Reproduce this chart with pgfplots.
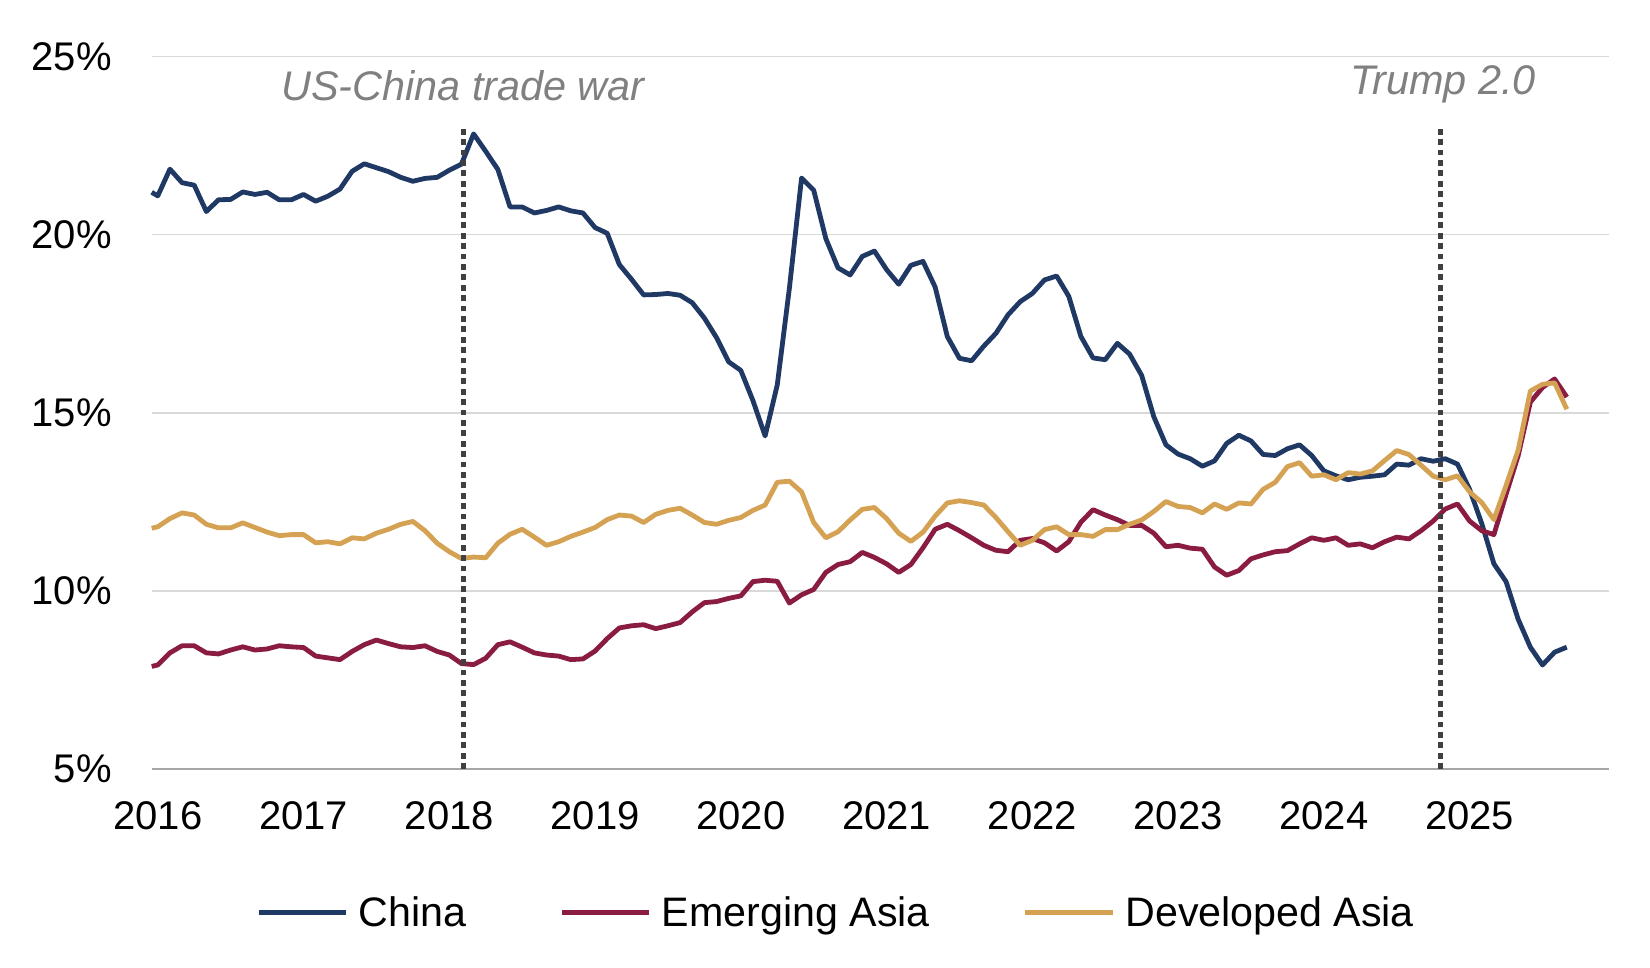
\documentclass[border=0pt]{standalone}
\usepackage{fontspec}
\setmainfont{Liberation Sans}
\usepackage{pgfplots}
\usepackage{pgfplotstable}
\pgfplotsset{compat=1.18}

\definecolor{china}{RGB}{31,56,100}
\definecolor{emasia}{RGB}{138,28,66}
\definecolor{devasia}{RGB}{212,162,82}
\definecolor{gridgray}{RGB}{217,217,217}
\definecolor{axisgray}{RGB}{166,166,166}
\definecolor{notegray}{RGB}{128,128,128}
\definecolor{markergray}{RGB}{64,64,64}

% Monthly shares (%), m = months since Jan 2016
\pgfplotstableread{
m china emerging developed
-0.5 21.19 7.88 11.76
0 21.09 7.92 11.80
1 21.84 8.26 12.03
2 21.46 8.46 12.19
3 21.39 8.46 12.13
4 20.65 8.26 11.87
5 20.98 8.23 11.77
6 20.99 8.34 11.77
7 21.20 8.43 11.91
8 21.13 8.34 11.78
9 21.19 8.37 11.65
10 20.98 8.46 11.55
11 20.98 8.43 11.58
12 21.13 8.41 11.58
13 20.94 8.17 11.35
14 21.08 8.12 11.38
15 21.28 8.07 11.32
16 21.78 8.30 11.49
17 21.99 8.49 11.46
18 21.88 8.62 11.62
19 21.77 8.52 11.73
20 21.61 8.43 11.87
21 21.50 8.41 11.95
22 21.58 8.46 11.69
23 21.61 8.30 11.34
24 21.81 8.20 11.10
25 21.98 7.96 10.91
26 22.83 7.93 10.95
27 22.34 8.11 10.93
28 21.83 8.49 11.34
29 20.78 8.57 11.59
30 20.78 8.42 11.73
31 20.61 8.26 11.51
32 20.68 8.20 11.28
33 20.78 8.17 11.38
34 20.67 8.07 11.53
35 20.61 8.09 11.65
36 20.20 8.31 11.78
37 20.04 8.66 12.00
38 19.16 8.96 12.13
39 18.75 9.02 12.10
40 18.31 9.05 11.92
41 18.32 8.94 12.15
42 18.35 9.02 12.26
43 18.30 9.11 12.32
44 18.09 9.41 12.13
45 17.66 9.67 11.92
46 17.11 9.70 11.87
47 16.43 9.79 11.98
48 16.19 9.86 12.06
49 15.34 10.26 12.26
50 14.35 10.30 12.41
51 15.78 10.27 13.05
52 18.50 9.66 13.08
53 21.59 9.89 12.78
54 21.25 10.04 11.92
55 19.89 10.52 11.49
56 19.07 10.74 11.66
57 18.87 10.82 11.99
58 19.39 11.08 12.29
59 19.54 10.94 12.34
60 19.02 10.76 12.03
61 18.61 10.52 11.62
62 19.14 10.74 11.39
63 19.25 11.21 11.65
64 18.53 11.73 12.10
65 17.14 11.87 12.47
66 16.53 11.69 12.53
67 16.46 11.49 12.48
68 16.87 11.28 12.41
69 17.23 11.14 12.06
70 17.75 11.10 11.66
71 18.12 11.42 11.28
72 18.35 11.47 11.42
73 18.73 11.35 11.72
74 18.84 11.12 11.80
75 18.27 11.38 11.58
76 17.14 11.93 11.58
77 16.54 12.28 11.53
78 16.49 12.13 11.72
79 16.95 12.00 11.72
80 16.65 11.84 11.87
81 16.05 11.84 11.99
82 14.89 11.62 12.23
83 14.10 11.24 12.51
84 13.84 11.28 12.37
85 13.71 11.20 12.34
86 13.50 11.17 12.19
87 13.65 10.67 12.44
88 14.14 10.44 12.29
89 14.37 10.57 12.47
90 14.21 10.90 12.44
91 13.83 11.01 12.85
92 13.80 11.10 13.05
93 13.99 11.13 13.49
94 14.10 11.32 13.60
95 13.80 11.49 13.22
96 13.37 11.42 13.26
97 13.23 11.49 13.12
98 13.12 11.28 13.32
99 13.19 11.32 13.28
100 13.22 11.21 13.37
101 13.26 11.38 13.66
102 13.56 11.51 13.94
103 13.53 11.46 13.83
104 13.71 11.69 13.53
105 13.64 11.96 13.22
106 13.71 12.30 13.12
107 13.56 12.44 13.23
108 12.85 11.96 12.78
109 11.89 11.69 12.48
110 10.76 11.58 12.00
111 10.26 12.71 12.96
112 9.20 13.80 13.96
113 8.42 15.30 15.61
114 7.92 15.71 15.80
115 8.28 15.95 15.84
116 8.42 15.44 15.10
}\shares

\begin{document}
\begin{tikzpicture}
\useasboundingbox (0,0) rectangle (825pt,484pt);
\begin{axis}[
  at={(75.85pt,99.5pt)}, anchor=south west,
  scale only axis, width=728.8pt, height=356.2pt,
  xmin=-0.5, xmax=119.5, ymin=5, ymax=25,
  axis lines*=left,
  x axis line style={draw=axisgray, line width=1pt},
  y axis line style={draw=none},
  ymajorgrids, grid style={gridgray, line width=0.75pt},
  xtick={0,12,24,36,48,60,72,84,96,108},
  xticklabels={2016,2017,2018,2019,2020,2021,2022,2023,2024,2025},
  ytick={5,10,15,20,25},
  yticklabel={\pgfmathprintnumber{\tick}\%},
  /pgf/number format/assume math mode=true,
  major tick length=0pt,
  tick style={draw=none},
  tick label style={font=\fontsize{20}{24}\selectfont, text=black, inner sep=0pt},
  xticklabel style={anchor=north, yshift=-16.3pt},
  yticklabel style={anchor=east, xshift=-19.8pt},
  clip=false,
  legend columns=3,
  legend cell align=left,
  legend style={
    at={(0.4688,-0.202)}, anchor=center, draw=none, fill=none,
    font=\fontsize{20.6}{24}\selectfont,
    nodes={inner sep=0pt},
    /tikz/every odd column/.append style={column sep=5pt},
    /tikz/every even column/.append style={column sep=46.5pt},
  },
  legend image code/.code={\draw[#1, line width=2.6pt] (0pt,0pt) -- (43.7pt,0pt);},
]
\addplot[china, line width=2.4pt, line join=round] table[x=m, y=china] {\shares};
\addlegendentry{China}
\addplot[emasia, line width=2.4pt, line join=round] table[x=m, y=emerging] {\shares};
\addlegendentry{Emerging Asia}
\addplot[devasia, line width=2.4pt, line join=round] table[x=m, y=developed] {\shares};
\addlegendentry{Developed Asia}

% event markers
\draw[markergray, line width=2.3pt, dash pattern=on 2.9pt off 2.3pt]
  (axis cs:25.15,5) -- (axis cs:25.15,23.09);
\draw[markergray, line width=2.3pt, dash pattern=on 2.9pt off 2.3pt]
  (axis cs:105.6,5) -- (axis cs:105.6,23.09);
\node[font=\fontsize{20.7}{24}\selectfont\itshape, text=notegray, anchor=base, inner sep=0pt]
  at (axis cs:25.12,23.78) {US-China trade war};
\node[font=\fontsize{20.7}{24}\selectfont\itshape, text=notegray, anchor=base, inner sep=0pt]
  at (axis cs:105.8,23.94) {Trump 2.0};
\end{axis}
\end{tikzpicture}
\end{document}
